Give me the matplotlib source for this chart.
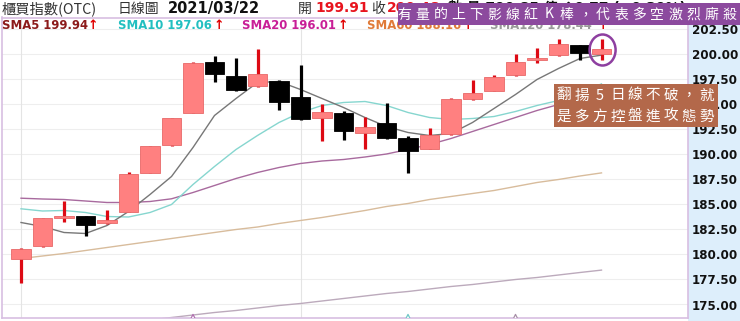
import matplotlib
matplotlib.use("Agg")
import matplotlib.pyplot as plt
from matplotlib.patches import Rectangle, Ellipse
import numpy as np

W, H = 740, 321

# daily candles
opens = [179.6, 180.8, 183.7, 183.83, 183.17, 184.27, 188.17, 190.9, 194.17, 199.27,
         197.83, 196.8, 197.33, 195.73, 193.67, 194.17, 192.1, 193.1, 191.67, 190.57,
         192.0, 195.5, 196.33, 197.9, 199.43, 199.9, 200.9, 200.05]
highs = [180.6, 183.65, 185.3, 183.85, 184.4, 188.23, 190.85, 193.67, 199.2, 199.83,
         199.67, 200.57, 197.4, 198.93, 195.0, 194.33, 193.77, 195.1, 191.83, 192.67,
         195.6, 197.43, 197.93, 200.0, 200.6, 201.57, 200.95, 201.57]
lows = [177.1, 180.75, 183.2, 181.83, 183.0, 184.2, 188.1, 190.85, 194.1, 197.27,
        196.35, 196.75, 194.43, 193.45, 191.33, 191.43, 190.5, 191.55, 188.17, 190.5,
        191.95, 195.45, 196.3, 197.85, 199.17, 199.85, 199.43, 199.43]
closes = [180.57, 183.6, 183.85, 182.93, 183.47, 188.0, 190.8, 193.6, 199.17, 198.07,
          196.4, 198.0, 195.23, 193.5, 194.23, 192.33, 192.77, 191.6, 190.33, 191.9,
          195.5, 196.17, 197.77, 199.27, 199.6, 201.07, 200.17, 200.55]

sma5 = [183.2, 182.8, 182.2, 182.1, 182.9, 184.3, 186.0, 187.8, 190.7, 193.9,
        195.6, 197.2, 197.3, 196.5, 195.6, 194.7, 193.7, 192.8, 192.2, 191.9,
        192.1, 193.2, 194.6, 196.0, 197.5, 198.6, 199.6, 199.94]
sma10 = [184.57, 184.35, 184.4, 184.2, 183.8, 183.75, 184.2, 185.0, 187.0, 188.8,
         190.5, 191.9, 193.2, 194.2, 194.9, 195.2, 195.3, 194.9, 194.2, 193.7,
         193.5, 193.6, 193.8, 194.3, 194.9, 195.4, 196.2, 197.06]
sma20 = [185.63, 185.55, 185.5, 185.35, 185.2, 185.2, 185.3, 185.57, 186.2, 186.9,
         187.6, 188.2, 188.7, 189.1, 189.35, 189.5, 189.75, 190.05, 190.5, 191.0,
         191.6, 192.3, 193.0, 193.7, 194.4, 195.0, 195.5, 196.01]
sma60 = [179.6, 179.85, 180.1, 180.4, 180.7, 181.0, 181.3, 181.6, 181.9, 182.2,
         182.5, 182.75, 183.1, 183.4, 183.7, 184.05, 184.4, 184.8, 185.1, 185.5,
         185.8, 186.1, 186.4, 186.8, 187.2, 187.5, 187.85, 188.16]
sma120 = [None, None, None, None, None, None, 173.45, 173.7, 173.95, 174.2,
          174.4, 174.65, 174.9, 175.1, 175.35, 175.6, 175.85, 176.1, 176.3, 176.55,
          176.8, 177.0, 177.25, 177.5, 177.7, 177.95, 178.2, 178.44]

yticks = [175.0, 177.5, 180.0, 182.5, 185.0, 187.5, 190.0, 192.5, 195.0, 197.5, 200.0, 202.5]
cross_idx = [8, 18, 23]
cross_colors = ['#b070b0', '#70c8c8', '#a890a8']

plt.rcParams['font.family'] = ['DejaVu Sans', 'Noto Sans CJK TC']
CJK = ['Noto Sans CJK TC', 'DejaVu Sans']

fig = plt.figure(figsize=(W / 100, H / 100), dpi=100)


def fx(px):
    return px / W


def fy(py):
    return 1 - py / H


# right price panel background
fig.add_artist(Rectangle((fx(688), 0), fx(740) - fx(688), fy(17.5), transform=fig.transFigure,
                         facecolor='#ddeefb', edgecolor='none', zorder=-1))

ax = fig.add_axes([fx(2), fy(318.3), fx(688) - fx(2), fy(17.5) - fy(318.3)])
n = len(opens)
x = np.arange(n)
ax.set_xlim(-19 / 21.5, (688 - 21) / 21.5)
ax.set_ylim(173.62, 203.7)

ax.set_yticks(yticks)
ax.set_yticklabels([f"{v:.2f}" for v in yticks], fontsize=8.6, fontweight='bold', color='#111111')
ax.yaxis.tick_right()
ax.tick_params(axis='y', length=0, pad=3)
ax.set_xticks([])
for s in ax.spines.values():
    s.set_color('#d8bfe2')
    s.set_linewidth(1.2)
for v in yticks:
    ax.axhline(v, color='#eeeeee', lw=0.8, zorder=0)
for i in [0, 13]:
    ax.axvline(i, color='#e4e4e4', lw=0.8, zorder=0)

# moving averages
ax.plot(x, sma120, color='#bcaabc', lw=1.0, zorder=1.5)
ax.plot(x, sma60, color='#d8bc9c', lw=1.0, zorder=1.5)
ax.plot(x, sma20, color='#a86a9e', lw=1.0, zorder=1.5)
ax.plot(x, sma10, color='#86d6cf', lw=1.0, zorder=1.5)
ax.plot(x, sma5, color='#777777', lw=1.0, zorder=1.5)

# candles
for i in range(n):
    o, h, l, c = opens[i], highs[i], lows[i], closes[i]
    up = c >= o
    wick = '#dd0a14' if up else '#000000'
    face = '#ff8080' if up else '#000000'
    edge = '#e86868' if up else '#000000'
    ax.vlines(i, l, h, color=wick, lw=2.3, zorder=2)
    bot = min(o, c)
    ht = max(abs(c - o), 0.2)
    ax.bar(i, ht, bottom=bot, width=0.92, color=face, edgecolor=edge, lw=0.6, zorder=3)

ax.scatter(cross_idx, [173.25] * len(cross_idx), marker='^', s=120, facecolors='white',
           edgecolors=cross_colors, linewidths=0.9, zorder=4)

ax.add_patch(Ellipse((27.05, 200.45), 1.21, 3.1, facecolor='none', edgecolor='#8e3fa0', lw=1.8, zorder=5))

# header row 1
y1 = fy(8.5)
fig.text(fx(2), y1, '櫃買指數(OTC)', fontsize=10.3, color='#333333', family=CJK, va='center')
fig.text(fx(118), y1, '日線圖', fontsize=10, color='#333333', family=CJK, va='center')
fig.text(fx(168), y1, '2021/03/22', fontsize=10.5, fontweight='bold', color='#111111', va='center')
fig.text(fx(298), y1, '開', fontsize=10, color='#333333', family=CJK, va='center')
fig.text(fx(315), y1, '199.91', fontsize=10, fontweight='bold', color='#e8141e', va='center')
fig.text(fx(371), y1, '收', fontsize=10, color='#333333', family=CJK, va='center')
fig.text(fx(387), y1, '200.48', fontsize=10, fontweight='bold', color='#e8141e', va='center')
fig.text(fx(448), y1, '數 量 790.85 億 ↑0.77 (+0.39%)', fontsize=10, fontweight='bold',
         color='#111111', family=['DejaVu Sans', 'Noto Sans CJK TC'], va='center')

# header row 2 (moving average values)
y2 = fy(25.5)
ma_labels = [('SMA5 199.94', '#8b1a1a', 2, 88),
             ('SMA10 197.06', '#22bfc0', 118, 214),
             ('SMA20 196.01', '#c81e96', 242, 338),
             ('SMA60 188.16', '#e07b39', 367, 463),
             ('SMA120 178.44', '#999999', 490, 598)]
for txt, col, x0, xa in ma_labels:
    fig.text(fx(x0), y2, txt, fontsize=8.4, fontweight='bold', color=col, va='center', zorder=3)
    fig.text(fx(xa), y2, '↑', fontsize=9, fontweight='bold', color='#e00000', va='center', zorder=3)

# purple callout
fig.add_artist(Rectangle((fx(398), fy(25)), fx(740) - fx(398), fy(3) - fy(25), transform=fig.transFigure,
                         facecolor='#8c4a9e', edgecolor='none', zorder=10))
top_msg = '有量的上下影線紅K棒，代表多空激烈廝殺'
for k, ch in enumerate(top_msg):
    fig.text(fx(404 + 18.1 * k), fy(14.5), ch, fontsize=10, color='white', family=CJK,
             ha='center', va='center', zorder=11)

# brown callout
fig.add_artist(Rectangle((fx(554), fy(127)), fx(718) - fx(554), fy(84) - fy(127), transform=fig.transFigure,
                         facecolor='#b3684a', edgecolor='none', zorder=10))
for row, (msg, yc) in enumerate([('翻揚5日線不破，就', 95.5), ('是多方控盤進攻態勢', 116.5)]):
    for k, ch in enumerate(msg):
        fig.text(fx(564 + 17.8 * k), fy(yc), ch, fontsize=10.5, color='white', family=CJK,
                 ha='center', va='center', zorder=11)

fig.savefig('out.png', dpi=100)
